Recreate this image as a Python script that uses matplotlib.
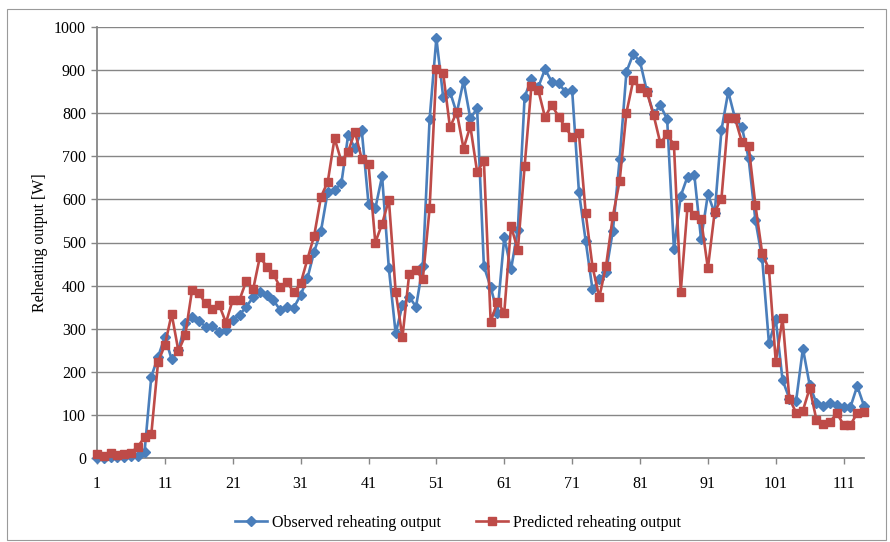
import matplotlib
matplotlib.use("Agg")
import matplotlib.pyplot as plt
from matplotlib.patches import Rectangle

plt.rcParams["font.family"] = ["Liberation Serif", "DejaVu Serif"]

# Hourly reheating output [W]
observed = [0, 0, 2, 2, 3, 5, 5, 13, 189, 235,
            281, 229, 250, 313, 328, 318, 305, 307, 293, 297,
            320, 332, 351, 373, 386, 378, 366, 343, 351, 349,
            378, 417, 479, 527, 618, 622, 637, 749, 719, 761,
            590, 579, 654, 440, 289, 355, 374, 351, 445, 786,
            974, 838, 850, 800, 875, 788, 811, 445, 396, 337,
            512, 438, 530, 838, 879, 860, 902, 873, 869, 850,
            854, 618, 503, 391, 415, 432, 527, 693, 896, 937,
            920, 852, 798, 818, 786, 484, 608, 653, 657, 507,
            612, 568, 761, 850, 788, 769, 695, 552, 463, 266,
            322, 181, 138, 133, 254, 169, 127, 121, 127, 123,
            119, 118, 167, 121]

predicted = [9, 5, 12, 8, 10, 12, 26, 48, 55, 223,
             262, 334, 248, 285, 389, 382, 359, 345, 355, 314,
             367, 367, 411, 391, 467, 444, 426, 396, 409, 384,
             405, 461, 516, 606, 641, 742, 688, 711, 757, 694,
             682, 500, 543, 599, 386, 280, 428, 436, 415, 579,
             902, 893, 767, 803, 718, 770, 664, 689, 316, 363,
             337, 538, 483, 677, 863, 854, 791, 819, 792, 767,
             744, 753, 568, 444, 373, 446, 561, 643, 801, 876,
             858, 850, 796, 730, 752, 726, 386, 583, 564, 554,
             440, 571, 602, 789, 788, 734, 724, 587, 475, 438,
             223, 324, 138, 105, 110, 162, 88, 80, 84, 104,
             77, 77, 104, 107]

hours = list(range(1, len(observed) + 1))
x_ticks = list(range(1, len(observed) + 1, 10))
y_ticks = list(range(0, 1001, 100))

blue = "#4A7EBB"
red = "#BE4B48"
axis_gray = "#868686"

fig = plt.figure(figsize=(8.9, 5.42), dpi=100)
fig.patches.append(Rectangle((7 / 890, 2 / 542), 879 / 890, 531 / 542,
                             transform=fig.transFigure, fill=False,
                             edgecolor="#9a9a9a", linewidth=0.8))

ax = fig.add_axes([97 / 890, 84 / 542, 767 / 890, 431 / 542])

ax.plot(hours, observed, color=blue, linewidth=1.9, marker="D",
        markersize=5.4, label="Observed reheating output", zorder=3,
        clip_on=False)
ax.plot(hours, predicted, color=red, linewidth=1.9, marker="s",
        markersize=6.2, label="Predicted reheating output", zorder=4,
        clip_on=False)

ax.set_xlim(1, len(observed))
ax.set_ylim(0, 1000)
ax.set_xticks(x_ticks)
ax.set_yticks(y_ticks)

ax.grid(axis="y", color=axis_gray, linewidth=1.0)
ax.set_axisbelow(True)
for side in ("top", "right"):
    ax.spines[side].set_visible(False)
for side in ("left", "bottom"):
    ax.spines[side].set_color(axis_gray)
    ax.spines[side].set_linewidth(1.3)

ax.tick_params(axis="both", colors=axis_gray, labelcolor="black",
               labelsize=11.5, length=4, width=1.0, direction="out")
ax.tick_params(axis="x", pad=9)
ax.tick_params(axis="y", pad=4)

ax.set_ylabel("Reheating output [W]", fontsize=11.5, labelpad=4)

fig.legend(loc="center", bbox_to_anchor=(458 / 890, 19 / 542), ncol=2,
           frameon=False, fontsize=11.5, handlelength=2.0,
           columnspacing=2.2, handletextpad=0.3, numpoints=1)

fig.savefig("out.png", dpi=100)
